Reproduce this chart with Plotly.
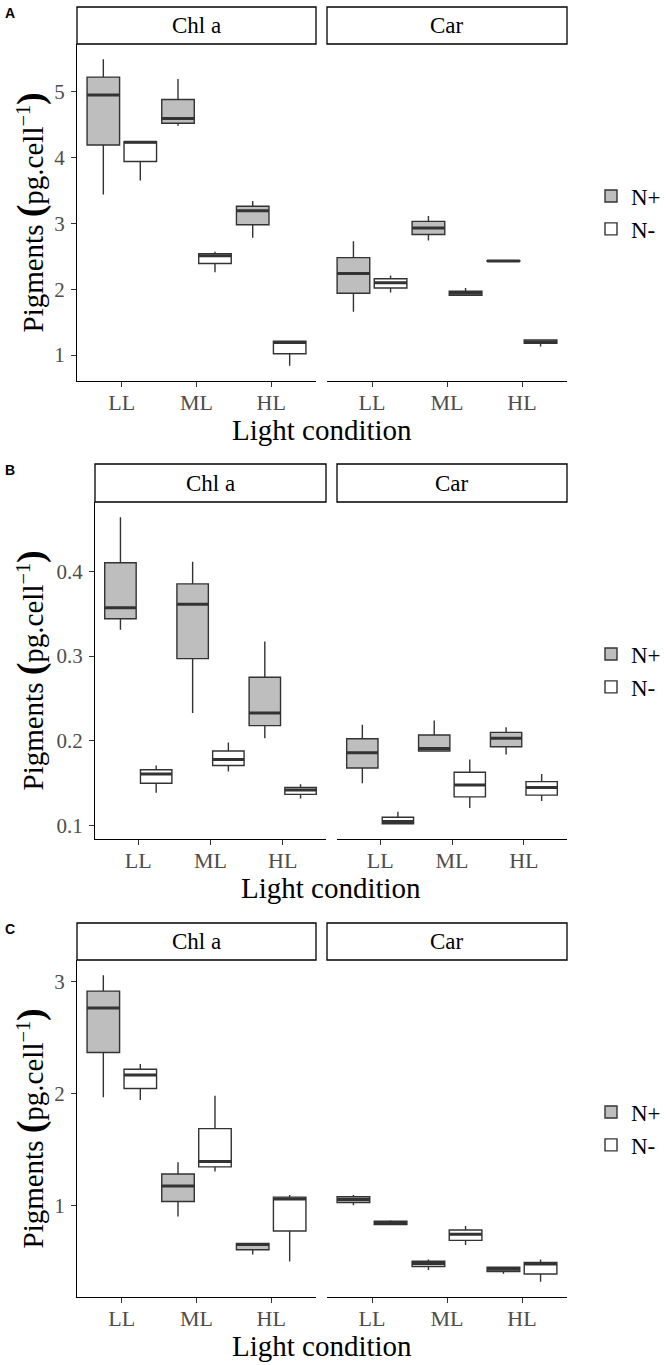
import plotly.graph_objects as go

W, H = 666, 1365

light = ["LL", "ML", "HL"]
facets = ["Chl a", "Car"]
groups = ["N+", "N-"]
panel_tags = ["A", "B", "C"]

# per light level: [lower whisker, q1, median, q3, upper whisker]
a_chl_nplus = [[3.44, 4.19, 4.95, 5.22, 5.49], [4.48, 4.52, 4.59, 4.88, 5.19], [2.78, 2.98, 3.19, 3.26, 3.34]]
a_chl_nminus = [[3.65, 3.94, 4.23, 4.24, 4.25], [2.26, 2.39, 2.51, 2.54, 2.57], [0.84, 1.02, 1.19, 1.21, 1.22]]
a_car_nplus = [[1.66, 1.94, 2.24, 2.48, 2.73], [2.74, 2.83, 2.93, 3.03, 3.11], [2.425, 2.425, 2.43, 2.435, 2.435]]
a_car_nminus = [[1.95, 2.02, 2.10, 2.16, 2.21], [1.91, 1.91, 1.94, 1.97, 2.02], [1.13, 1.18, 1.20, 1.23, 1.24]]

b_chl_nplus = [[0.331, 0.344, 0.357, 0.410, 0.4635], [0.233, 0.297, 0.361, 0.385, 0.411], [0.203, 0.218, 0.233, 0.275, 0.317]]
b_chl_nminus = [[0.139, 0.150, 0.161, 0.166, 0.171], [0.164, 0.171, 0.178, 0.188, 0.198], [0.132, 0.137, 0.142, 0.145, 0.149]]
b_car_nplus = [[0.150, 0.168, 0.186, 0.2025, 0.219], [0.1875, 0.188, 0.191, 0.207, 0.224], [0.184, 0.193, 0.203, 0.210, 0.216]]
b_car_nminus = [[0.1024, 0.1024, 0.105, 0.110, 0.1166], [0.121, 0.134, 0.148, 0.163, 0.178], [0.129, 0.136, 0.145, 0.152, 0.161]]

c_chl_nplus = [[1.965, 2.364, 2.763, 2.913, 3.054], [0.898, 1.033, 1.171, 1.279, 1.384], [0.559, 0.601, 0.649, 0.658, 0.664]]
c_chl_nminus = [[1.939, 2.043, 2.163, 2.214, 2.262], [1.300, 1.342, 1.390, 1.684, 1.978], [0.496, 0.769, 1.054, 1.072, 1.090]]
c_car_nplus = [[1.0, 1.024, 1.051, 1.075, 1.090], [0.421, 0.451, 0.478, 0.499, 0.514], [0.388, 0.406, 0.427, 0.445, 0.451]]
c_car_nminus = [[0.826, 0.826, 0.841, 0.856, 0.865], [0.643, 0.685, 0.739, 0.778, 0.814], [0.316, 0.385, 0.475, 0.487, 0.514]]

a_yticks = [1, 2, 3, 4, 5]
b_yticks = [0.1, 0.2, 0.3, 0.4]
c_yticks = [1, 2, 3]

panels = [
    [[a_chl_nplus, a_chl_nminus], [a_car_nplus, a_car_nminus]],
    [[b_chl_nplus, b_chl_nminus], [b_car_nplus, b_car_nminus]],
    [[c_chl_nplus, c_chl_nminus], [c_car_nplus, c_car_nminus]],
]
yticks = [a_yticks, b_yticks, c_yticks]

fills = {"N+": "#BEBEBE", "N-": "#FFFFFF"}
SERIF = "Liberation Serif"

# pixel layout (top/bottom of plot area, left/right of each facet)
rows_px = [(44, 381), (502, 839), (960, 1297)]
cols_px = [[(77, 316), (327, 567)], [(95, 326), (337, 567)], [(77, 316), (327, 567)]]
strip_h = [37, 38, 37]


def px(x):
    return x / W


def py(y):
    return 1 - y / H


fig = go.Figure()
layout = {}
annotations = []
shapes = []

for p, tag in enumerate(panel_tags):
    legend_name = "legend" if p == 0 else f"legend{p + 1}"
    # ggplot-like 5% expansion of the y range
    vals = [v for facet in panels[p] for grp in facet for row in grp for v in row]
    lo, hi = min(vals), max(vals)
    pad = (hi - lo) * 0.05
    yrange = [lo - pad, hi + pad]
    top, bot = rows_px[p]
    for f, facet in enumerate(facets):
        n = p * 2 + f + 1
        xa = "x" if n == 1 else f"x{n}"
        ya = "y" if n == 1 else f"y{n}"
        xk = "xaxis" if n == 1 else f"xaxis{n}"
        yk = "yaxis" if n == 1 else f"yaxis{n}"
        for g, grp in enumerate(groups):
            stats = panels[p][f][g]
            common = dict(
                x=light, xaxis=xa, yaxis=ya,
                offsetgroup=grp, alignmentgroup=f"{p}{f}",
                whiskerwidth=0, hoverinfo="skip",
            )
            fig.add_trace(go.Box(
                name=grp,
                lowerfence=[s[0] for s in stats],
                q1=[s[1] for s in stats],
                median=[s[2] for s in stats],
                q3=[s[3] for s in stats],
                upperfence=[s[4] for s in stats],
                fillcolor=fills[grp],
                line=dict(color="#333333", width=1.4),
                showlegend=(f == 0), legend=legend_name,
                **common,
            ))
            # thicker median bar like ggplot
            med = [s[2] for s in stats]
            fig.add_trace(go.Box(
                name=grp,
                lowerfence=med, q1=med, median=med, q3=med, upperfence=med,
                fillcolor="rgba(0,0,0,0)",
                line=dict(color="#333333", width=3),
                showlegend=False,
                **common,
            ))
        x0, x1 = cols_px[p][f]
        layout[xk] = dict(
            domain=[px(x0), px(x1)], anchor=ya,
            type="category", categoryorder="array", categoryarray=light,
            range=[-0.6, 2.6], showgrid=False, zeroline=False,
            showline=True, linecolor="black", linewidth=1.1,
            ticks="outside", ticklen=5, tickwidth=1.1, tickcolor="#333333",
            tickfont=dict(family=SERIF, size=22, color="#4D4D4D"),
            ticklabelstandoff=-3,
            fixedrange=True,
        )
        yax = dict(
            domain=[py(bot), py(top)], anchor=xa,
            range=yrange, showgrid=False, zeroline=False,
            tickvals=yticks[p], ticktext=[f"{t:g}" for t in yticks[p]],
            fixedrange=True,
        )
        if f == 0:
            yax.update(
                showline=True, linecolor="black", linewidth=1.1,
                ticks="outside", ticklen=5, tickwidth=1.1, tickcolor="#333333",
                tickfont=dict(family=SERIF, size=21, color="#4D4D4D"),
                ticklabelstandoff=2,
            )
        else:
            yax.update(showline=False, showticklabels=False, ticks="")
        layout[yk] = yax

        # facet strip
        sh = strip_h[p] / (bot - top)
        shapes.append(dict(
            type="rect", xref=f"{xa} domain", yref=f"{ya} domain",
            x0=0, x1=1, y0=1, y1=1 + sh,
            line=dict(color="black", width=1.3), fillcolor="white",
        ))
        annotations.append(dict(
            text=facet, xref=f"{xa} domain", yref=f"{ya} domain",
            x=0.5, y=1 + sh / 2, showarrow=False,
            xanchor="center", yanchor="middle",
            font=dict(family=SERIF, size=23, color="black"),
        ))

    left = cols_px[p][0][0]
    right = cols_px[p][1][1]
    # x title
    annotations.append(dict(
        text="Light condition", xref="paper", yref="paper",
        x=px((left + right) / 2), y=py(bot + 49), showarrow=False,
        xanchor="center", yanchor="middle",
        font=dict(family=SERIF, size=29, color="black"),
    ))
    # y title
    annotations.append(dict(
        text="Pigments <b><span style='font-size:38px'>(</span></b>pg.cell<sup>\u22121</sup><b><span style='font-size:38px'>)</span></b>",
        xref="paper", yref="paper",
        x=px(30), y=py((top + bot) / 2), showarrow=False, textangle=-90,
        xanchor="center", yanchor="middle",
        font=dict(family=SERIF, size=29, color="black"),
    ))
    # panel letter
    annotations.append(dict(
        text=f"<b>{tag}</b>", xref="paper", yref="paper",
        x=px(3), y=py(top - strip_h[p] + 6), showarrow=False,
        xanchor="left", yanchor="middle",
        font=dict(family="Liberation Sans", size=14, color="black"),
    ))
    layout[legend_name] = dict(
        x=px(591), y=py((top + bot) / 2), xanchor="left", yanchor="middle",
        font=dict(family=SERIF, size=23, color="black"),
        bgcolor="rgba(0,0,0,0)", tracegroupgap=0, itemwidth=30,
    )

fig.update_layout(
    width=W, height=H,
    margin=dict(l=0, r=0, t=0, b=0),
    paper_bgcolor="white", plot_bgcolor="white",
    boxmode="group", boxgap=0.01, boxgroupgap=0.12,
    annotations=annotations, shapes=shapes,
    **layout,
)

# drop the browser's default page margin so the figure sits at (0, 0)
fig.write_html(
    "out.html",
    config={"displayModeBar": False},
    post_script="document.body.style.margin='0';",
)
